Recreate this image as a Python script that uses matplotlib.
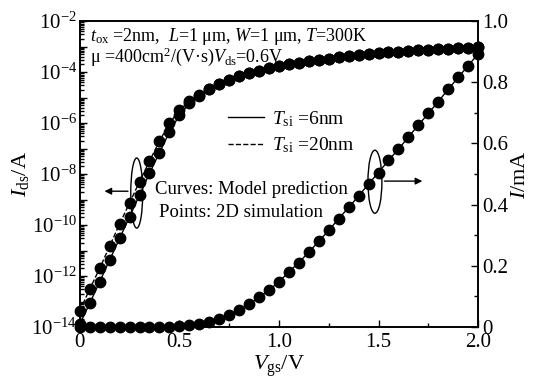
import math
import matplotlib
matplotlib.use("Agg")
import matplotlib.pyplot as plt
from matplotlib.patches import Ellipse
from matplotlib.ticker import LogLocator, FixedLocator, MultipleLocator, NullFormatter, FuncFormatter
from matplotlib.lines import Line2D

plt.rcParams['font.family'] = ['Liberation Serif', 'DejaVu Serif']
plt.rcParams['mathtext.fontset'] = 'custom'
plt.rcParams['mathtext.rm'] = 'Liberation Serif'
plt.rcParams['mathtext.it'] = 'Liberation Serif:italic'

# gate voltage (V)
vgs = [0.0, 0.05, 0.1, 0.15, 0.2, 0.25, 0.3, 0.35, 0.4, 0.45, 0.5, 0.55, 0.6,
       0.65, 0.7, 0.75, 0.8, 0.85, 0.9, 0.95, 1.0, 1.05, 1.1, 1.15, 1.2, 1.25,
       1.3, 1.35, 1.4, 1.45, 1.5, 1.55, 1.6, 1.65, 1.7, 1.75, 1.8, 1.85, 1.9,
       1.95, 2.0]

# common above-threshold part (A), from 0.65 V
ids_sat = [2.1e-5, 3.3e-5, 5.0e-5, 6.9e-5, 9.1e-5, 1.15e-4, 1.41e-4, 1.70e-4,
           2.0e-4, 2.34e-4, 2.7e-4, 3.0e-4, 3.4e-4, 3.8e-4, 4.2e-4, 4.6e-4,
           5.0e-4, 5.5e-4, 5.9e-4, 6.3e-4, 6.8e-4, 7.2e-4, 7.6e-4, 7.9e-4,
           8.3e-4, 8.7e-4, 9.1e-4, 9.5e-4]

# Tsi = 6nm (A)
ids_6nm = [1.32e-14, 8.5e-14, 6.0e-13, 4.3e-12, 3.0e-11, 2.1e-10, 1.5e-9,
           1.07e-8, 6.9e-8, 4.4e-7, 2.0e-6, 6.0e-6, 1.2e-5] + ids_sat
# Tsi = 20nm (A)
ids_20nm = [4.3e-14, 3.1e-13, 2.0e-12, 1.5e-11, 1.1e-10, 7.4e-10, 5.0e-9,
            3.2e-8, 1.95e-7, 9.8e-7, 3.2e-6, 7.1e-6, 1.26e-5] + ids_sat

# linear current (mA)
i_lin = [0, 0, 0, 0, 0, 0, 0, 0, 0, 0, 0.002, 0.006, 0.011, 0.017, 0.027,
         0.039, 0.056, 0.075, 0.097, 0.121, 0.148, 0.180, 0.211, 0.245, 0.280,
         0.316, 0.354, 0.391, 0.428, 0.468, 0.505, 0.545, 0.581, 0.621, 0.660,
         0.698, 0.737, 0.777, 0.816, 0.854, 0.893]

fig = plt.figure(figsize=(5.39, 3.83), dpi=100)
ax = fig.add_axes([0.148, 0.146, 0.739, 0.799])
ax2 = ax.twinx()

ax.plot(vgs, ids_6nm, 'k-', lw=1)
ax.plot(vgs, ids_20nm, 'k--', lw=1)
ax.plot(vgs, ids_6nm, 'ko', ms=7.5, clip_on=False)
ax.plot(vgs, ids_20nm, 'ko', ms=7.5, clip_on=False)
ax2.plot(vgs, i_lin, 'k-', lw=1)
ax2.plot(vgs, i_lin, 'ko', ms=7.5, clip_on=False)

ax.set_yscale('log')
ax.set_ylim(1e-14, 1e-2)
ax.set_xlim(0, 2.0)
ax2.set_ylim(0, 1.0)

def exp_label(v, p):
    e = round(math.log10(v))
    return r'$\mathregular{10^{%d}}$' % e if e % 2 == 0 else ''

ax.yaxis.set_major_locator(FixedLocator([10.0**e for e in range(-14, -1)]))
ax.yaxis.set_major_formatter(FuncFormatter(exp_label))
ax.yaxis.set_minor_locator(LogLocator(base=10, subs=range(2, 10), numticks=50))
ax.yaxis.set_minor_formatter(NullFormatter())

ax.xaxis.set_major_locator(FixedLocator([0, 0.5, 1.0, 1.5, 2.0]))
ax.set_xticklabels(['0', '0.5', '1.0', '1.5', '2.0'])
ax.xaxis.set_minor_locator(MultipleLocator(0.25))

ax2.yaxis.set_major_locator(FixedLocator([0, 0.2, 0.4, 0.6, 0.8, 1.0]))
ax2.set_yticklabels(['0', '0.2', '0.4', '0.6', '0.8', '1.0'])
ax2.yaxis.set_minor_locator(MultipleLocator(0.1))

for a in (ax, ax2):
    a.tick_params(which='both', direction='in', labelsize=15, width=1)
    a.tick_params(which='major', length=5)
    a.tick_params(which='minor', length=3)
    for s in a.spines.values():
        s.set_linewidth(1.2)
ax.tick_params(axis='x', which='both', top=False, pad=4)
ax.tick_params(axis='y', which='both', right=False, pad=2)
ax2.tick_params(axis='y', pad=3)

ax.set_xlabel(r'$V_{\rm gs}$/V', fontsize=16, labelpad=1)
ax.set_ylabel(r'$I_{\rm ds}$/A', fontsize=16, labelpad=0)
ax2.set_ylabel(r'$I$/mA', fontsize=16, labelpad=2)

ax.text(0.025, 0.95, r'$t_{\rm ox}$ =2nm,  $L$=1 μm, $W$=1 μm, $T$=300K',
        transform=ax.transAxes, fontsize=13, va='center')
ax.text(0.025, 0.882, r'μ =400cm$^2$/(V·s)$V_{\rm ds}$=0.6V',
        transform=ax.transAxes, fontsize=13, va='center')

handles = [Line2D([], [], color='k', lw=1, ls='-'),
           Line2D([], [], color='k', lw=1, ls='--')]
ax2.legend(handles, [r'$T_{\rm si}$ =6nm', r'$T_{\rm si}$ =20nm'],
           loc='upper left', bbox_to_anchor=(0.327, 0.77), frameon=False,
           fontsize=14, handlelength=1.9, handletextpad=0.4, labelspacing=0.35)

ax2.text(0.19, 0.448, 'Curves: Model prediction', transform=ax.transAxes,
         fontsize=13.5, va='center')
ax2.text(0.198, 0.376, 'Points: 2D simulation', transform=ax.transAxes,
         fontsize=13.5, va='center')

ax2.add_patch(Ellipse((0.143, 0.438), 0.03, 0.229, transform=ax.transAxes,
                      fill=False, ec='k', lw=1))
ax2.add_patch(Ellipse((0.741, 0.475), 0.035, 0.206, transform=ax.transAxes,
                      fill=False, ec='k', lw=1))
ax2.annotate('', xy=(0.055, 0.444), xytext=(0.128, 0.444), xycoords='axes fraction',
             arrowprops=dict(arrowstyle='-|>', color='k', lw=1, mutation_scale=10))
ax2.annotate('', xy=(0.867, 0.477), xytext=(0.758, 0.477), xycoords='axes fraction',
             arrowprops=dict(arrowstyle='-|>', color='k', lw=1, mutation_scale=10))

fig.savefig('out.png', dpi=100)
